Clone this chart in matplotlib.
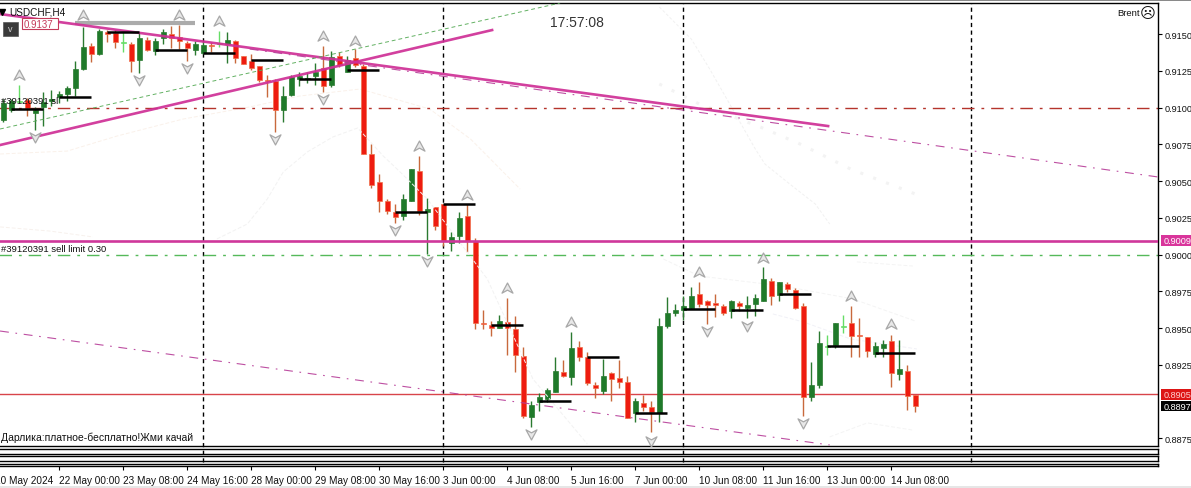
import numpy as np
import matplotlib
matplotlib.use("Agg")
import matplotlib.pyplot as plt
from matplotlib.path import Path
from matplotlib.patches import Rectangle

# ---------- data (prices in 1e-5 units) ----------
opens = [90915,90983,91038,91051,90963,91004,91044,91072,91092,91133,
91262,91418,91364,91514,91507,91439,91432,91323,91459,91384,
91473,91500,91480,91439,91391,91371,91425,91432,91432,91452,
91350,91316,91282,91187,91180,90983,91085,91194,91194,91214,
91269,91153,91350,91242,91337,91282,90684,90494,90364,90290,
90262,90364,90568,90290,90324,90344,90079,90126,90262,90092,
89535,89521,89501,89541,89494,89310,88896,88998,89018,89066,
89202,89168,89372,89304,89113,89072,89195,89161,89134,88923,
88991,88964,88923,89514,89603,89623,89637,89732,89684,89671,
89650,89616,89671,89637,89664,89684,89820,89725,89800,89759,
89650,89032,89113,89372,89385,89508,89535,89453,89440,89324,
89365,89412,89188,89208,89045]
highs = [91058,91058,91153,91065,91004,91106,91119,91112,91146,91316,
91548,91439,91534,91527,91527,91514,91446,91514,91480,91473,
91534,91554,91561,91452,91452,91452,91446,91520,91514,91459,
91350,91364,91282,91221,91194,91146,91221,91242,91242,91303,
91418,91384,91378,91350,91398,91296,90752,90548,90378,90344,
90412,90582,90670,90385,90324,90344,90154,90290,90344,90113,
89623,89548,89589,89705,89582,89372,89004,89059,89093,89304,
89283,89474,89412,89338,89134,89290,89202,89283,89174,89025,
89045,89004,89569,89712,89664,89718,89780,89814,89691,89732,
89664,89691,89684,89718,89732,89916,89841,89814,89814,89773,
89671,89270,89480,89453,89535,89589,89650,89569,89440,89406,
89419,89453,89419,89249,89045]
lows = [90902,90970,91038,90942,90847,90874,91010,91031,91044,91078,
91255,91310,91357,91446,91405,91378,91242,91235,91384,91357,
91432,91405,91398,91316,91357,91364,91378,91412,91303,91303,
91296,91255,91174,91072,90834,90902,91078,91146,91167,91153,
91106,91140,91276,91242,91276,90684,90453,90290,90276,90215,
90235,90364,90269,90004,90167,90058,90024,90079,90018,89494,
89494,89446,89501,89317,89202,88889,88828,88936,88998,89066,
89168,89113,89276,89113,89025,89052,89004,89093,88889,88862,
88936,88794,88862,89501,89582,89555,89630,89644,89528,89576,
89589,89569,89616,89569,89582,89684,89657,89684,89746,89630,
88902,89004,89093,89317,89365,89467,89304,89304,89304,89304,
89304,89100,89147,88943,88930]
closes = [91031,91044,91044,90997,90983,91038,91058,91092,91133,91262,
91412,91364,91520,91500,91446,91446,91316,91473,91391,91452,
91514,91473,91452,91405,91432,91425,91418,91439,91459,91337,
91296,91269,91187,91180,90983,91078,91208,91214,91201,91242,
91146,91344,91289,91323,91289,90684,90473,90364,90296,90256,
90378,90582,90296,90310,90194,90092,90120,90249,90092,89535,
89528,89501,89548,89501,89317,88902,88977,89032,89079,89208,
89174,89365,89304,89127,89093,89174,89154,89134,88889,89004,
88964,88930,89514,89603,89623,89650,89718,89664,89657,89657,
89603,89684,89650,89657,89705,89834,89718,89814,89766,89637,
89032,89113,89399,89378,89535,89514,89446,89446,89344,89378,
89392,89195,89222,89038,88970]
light_bars = [2,15,27,103,105]

up_i = [10,22,27,2,40,44,52,58,63,71,87,95,106,111]
up_p = [91629,91629,91588,91221,91486,91452,90738,90405,89773,89542,89882,89977,89718,89528]
down_i = [4,17,23,34,40,49,53,66,81,88,93,100]
down_p = [90800,91187,91269,90786,91058,90167,89956,88780,88732,89480,89514,88855]

seg_start = [1,7,13,19,25,31,37,43,49,55,61,67,73,79,85,91,97,103,109]
seg_end   = [5,11,17,23,29,35,41,47,53,59,65,71,77,83,89,95,101,107,114]
seg_price = [90987,91072,91514,91391,91374,91323,91194,91252,90292,90346,89523,89006,89306,88925,89632,89623,89734,89380,89333]

time_ticks = [-1,7,15,23,31,39,47,55,63,71,79,87,95,103,111]
time_labels = ["20 May 2024","22 May 00:00","23 May 08:00","24 May 16:00","28 May 00:00","29 May 08:00",
               "30 May 16:00","3 Jun 00:00","4 Jun 08:00","5 Jun 16:00","7 Jun 00:00","10 Jun 08:00",
               "11 Jun 16:00","13 Jun 00:00","14 Jun 08:00"]
price_ticks = [0.9150,0.9125,0.9100,0.9075,0.9050,0.9025,0.9000,0.8975,0.8950,0.8925,0.8875]
vline_bars = [25,55,85,121]

thick_a = ([-0.41,103.1],[91636,90874])
thick_b = ([-0.41,61.1],[90745,91527])
thin_c  = ([30.8,144.3],[91398,90528])
thin_d  = ([-0.41,103.3],[89480,88705])
thin_e  = ([-0.41,69.6],[90854,91711])

# faint indicator curves
curve1_x = [82,86,88.3,90.8,94,95.2,98.3,101.5,103.3]
curve1_p = [91684,91466,91262,91024,90718,90616,90480,90344,90208]
curve2_x = [82,87,94.6,99.6,105.9,114]
curve2_p = [91160,91024,90868,90752,90582,90412]
curve3_x = [26.7,30.5,33,35,38,41.2,44.3,47.5,49.6,53,60.5,66.2,73]
curve3_p = [90106,90208,90378,90562,90698,90800,90861,90670,90562,90378,89834,89154,88712]
curve4_x = [-0.4,8,14.2,22.5,30.8,37,44.6,53.3,58.4,64.6]
curve4_p = [90684,90704,90806,90922,91004,91078,91126,90990,90786,90446]
curve5_x = [-0.4,5.8,11.2]
curve5_p = [90188,90160,90120]
curve6_x = [82.5,87,97.5,106.2,114]
curve6_p = [89970,89854,89786,89698,89548]
curve7_x = [96.2,100,105.9,114.2]
curve7_p = [89596,89542,89426,89358]
curve8_x = [103.3,108,113.6]
curve8_p = [88760,88855,88807]
curve9_x = [106.7,113.7]
curve9_p = [89950,89922]

# ---------- layout ----------
W,H = 1191,489
fig = plt.figure(figsize=(W/100,H/100),dpi=100,facecolor="white")
plt.rcParams['font.family'] = ['Liberation Sans','DejaVu Sans']
def axpx(l,t,r,b,**k):
    return fig.add_axes([l/W,1-b/H,(r-l)/W,(b-t)/H],**k)

XL = (-1.4125,144.3375)
for (t,b) in [(449.5,454.5),(456.5,462),(464.5,466.5)]:
    s = axpx(-8,t,1158,b)
    s.set_xlim(*XL); s.set_yticks([])
    for sp in s.spines.values(): sp.set_linewidth(1.0)
    if b<466:
        s.set_xticks([])
    else:
        s.set_xticks(time_ticks)
        s.set_xticklabels(time_labels,ha='left',fontsize=7.2,color='#111111')
        s.tick_params(axis='x',length=3,width=0.8,pad=4)

ax = axpx(-8,4,1158,447,zorder=5)
ax.patch.set_alpha(0)
ax.set_xlim(*XL)
ax.set_ylim(0.88698,0.91711)
ax.spines['left'].set_visible(False)
for k in ('bottom','top','right'):
    ax.spines[k].set_linewidth(1.0)
ax.yaxis.tick_right()
ax.set_yticks(price_ticks)
ax.set_yticklabels([f"{p:.4f}" for p in price_ticks],fontsize=6.6,color='#111111')
ax.tick_params(axis='y',length=3,width=0.8,pad=2)
ax.set_xticks([])

# faint curves
for xs,ps,col,lw,ls,z in [(curve1_x,curve1_p,'#f1f1f1',0.7,(0,(3,2)),1),
                          (curve2_x,curve2_p,'#f3f3f3',2.2,(0,(1,3.5)),1),
                          (curve3_x,curve3_p,'#f2f2f2',0.7,(0,(4,2)),3.6),
                          (curve4_x,curve4_p,'#faf1ea',0.7,(0,(4,2)),1),
                          (curve5_x,curve5_p,'#f7f1ed',0.7,(0,(4,2)),1),
                          (curve6_x,curve6_p,'#f4f4f4',0.7,(0,(4,2)),1),
                          (curve7_x,curve7_p,'#f1f1f7',0.7,(0,(4,2)),1),
                          (curve8_x,curve8_p,'#f4f4f4',0.7,(0,(4,2)),1),
                          (curve9_x,curve9_p,'#f4f4f4',0.7,(0,(4,2)),1)]:
    ax.plot(xs,np.array(ps)/1e5,color=col,lw=lw,ls=ls,zorder=z)

O,Hi,Lo,C = [np.array(a)/1e5 for a in (opens,highs,lows,closes)]
idx = np.arange(len(O))
GREEN,RED = '#1f7a2a','#ee1c10'
wick_cols = ['#66dd66' if i in light_bars else ('#2a7a30' if C[i]>=O[i] else '#c8693c') for i in idx]
ax.vlines(idx,Lo,Hi,colors=wick_cols,linewidth=1.0,zorder=2)
body_cols = ['#66dd66' if i in light_bars else (GREEN if C[i]>=O[i] else RED) for i in idx]
edge_cols = ['#66dd66' if i in light_bars else ('#2a7a30' if C[i]>=O[i] else '#f0704a') for i in idx]
ax.bar(idx,np.maximum(np.abs(C-O),0.00004),bottom=np.minimum(O,C),width=0.6,color=body_cols,
       edgecolor=edge_cols,linewidth=0.5,zorder=3)

# reference levels
ax.axhline(0.9100,color='#b5342c',lw=1.0,ls=(0,(9,5,2,5)),zorder=1.5)
ax.axhline(0.9000,color='#55b95a',lw=1.0,ls=(0,(9,5,2,5)),zorder=1.5)
ax.axhline(0.90090,color='#cf379b',lw=1.9,zorder=4)
ax.axhline(0.8905,color='#d8444a',lw=1.0,zorder=1.5)

# trend lines
for (xs,ps),col,lw,ls in [(thick_a,'#cf2f96',1.9,'-'),(thick_b,'#cf2f96',1.9,'-'),
                          (thin_c,'#b8409a',0.8,(0,(8,6,1.5,6))),(thin_d,'#b8409a',0.8,(0,(8,6,1.5,6))),
                          (thin_e,'#55aa55',0.7,(0,(4,3)))]:
    ax.plot(xs,np.array(ps)/1e5,color=col,lw=lw,ls=ls,zorder=4,alpha=0.92)

# black segments
ax.hlines(np.array(seg_price)/1e5,seg_start,seg_end,colors='black',lw=1.8,zorder=4.5)
ax.hlines(0.91575,9,24,colors='#ababab',lw=3.0,zorder=3.5)

# fractal markers
up = Path([(0,1),(1,-0.85),(0,-0.3),(-1,-0.85),(0,1)],closed=True)
dn = Path([(0,-1),(1,0.85),(0,0.3),(-1,0.85),(0,-1)],closed=True)
ax.scatter(up_i,np.array(up_p)/1e5,marker=up,s=62,facecolor='#e8e8e8',edgecolor='#a8a8a8',lw=0.9,zorder=4)
ax.scatter(down_i,np.array(down_p)/1e5,marker=dn,s=62,facecolor='#e8e8e8',edgecolor='#a8a8a8',lw=0.9,zorder=4)

# session separators
for v in vline_bars:
    ax.plot([v,v],[-0.035,1],transform=ax.get_xaxis_transform(),color='black',lw=1.0,ls=(0,(3,2.5)),
            clip_on=False,zorder=1)

# overlay text in pixel space
ov = fig.add_axes([0,0,1,1],zorder=10)
ov.set_xlim(0,W); ov.set_ylim(H,0); ov.axis('off'); ov.patch.set_alpha(0)
ov.add_patch(Rectangle((0,0),W,2.2,color='#8a8a8a',lw=0))
ov.add_patch(Rectangle((0,487),W,2,color='#e6e6e6',lw=0))
ov.text(9,12.5,"USDCHF,H4",fontsize=7.2,va='center',ha='left',color='#111111')
ov.plot([2.2],[12.5],marker='v',ms=4,color='black')
ov.add_patch(Rectangle((3,23),15,14,facecolor='#3a3a3a',edgecolor='#555555',lw=0.5))
ov.text(10.5,30,"v",fontsize=6.5,color='#cfcfcf',ha='center',va='center')
ov.add_patch(Rectangle((22,19),36,11,facecolor='white',edgecolor='#c43a5a',lw=0.8))
ov.text(23.5,25,"0.9137",fontsize=7,color='#c43a5a',va='center',ha='left')
ov.text(577,23,"17:57:08",fontsize=10,color='#333333',ha='center',va='center')
ov.text(1117,13.5,"Brent",fontsize=6.8,color='#111111',va='center',ha='left')
ov.text(1147.5,13.5,"\u2639",fontsize=11,color='#111111',va='center',ha='center',family='DejaVu Sans')
ov.text(1,102,"#39120391 sl",fontsize=6.8,color='#111111',va='center',ha='left')
ov.text(1,249,"#39120391 sell limit 0.30",fontsize=6.8,color='#111111',va='center',ha='left')
ov.text(1,438,"Дарлика:платное-бесплатно!Жми качай",fontsize=7.5,color='#111111',va='center',ha='left')
for y0,y1,fc,txt,tc in [(236,247,'#d9359b',"0.9009",'white'),
                        (390,401,'#dd1515',"0.8905",'#ffd0d0'),
                        (402,412,'black',"0.8897",'white')]:
    ov.add_patch(Rectangle((1161,y0),30,y1-y0,facecolor=fc,edgecolor=fc,lw=0))
    ov.text(1163.5,(y0+y1)/2,txt,fontsize=6.6,color=tc,va='center',ha='left')

fig.savefig("out.png",dpi=100)
